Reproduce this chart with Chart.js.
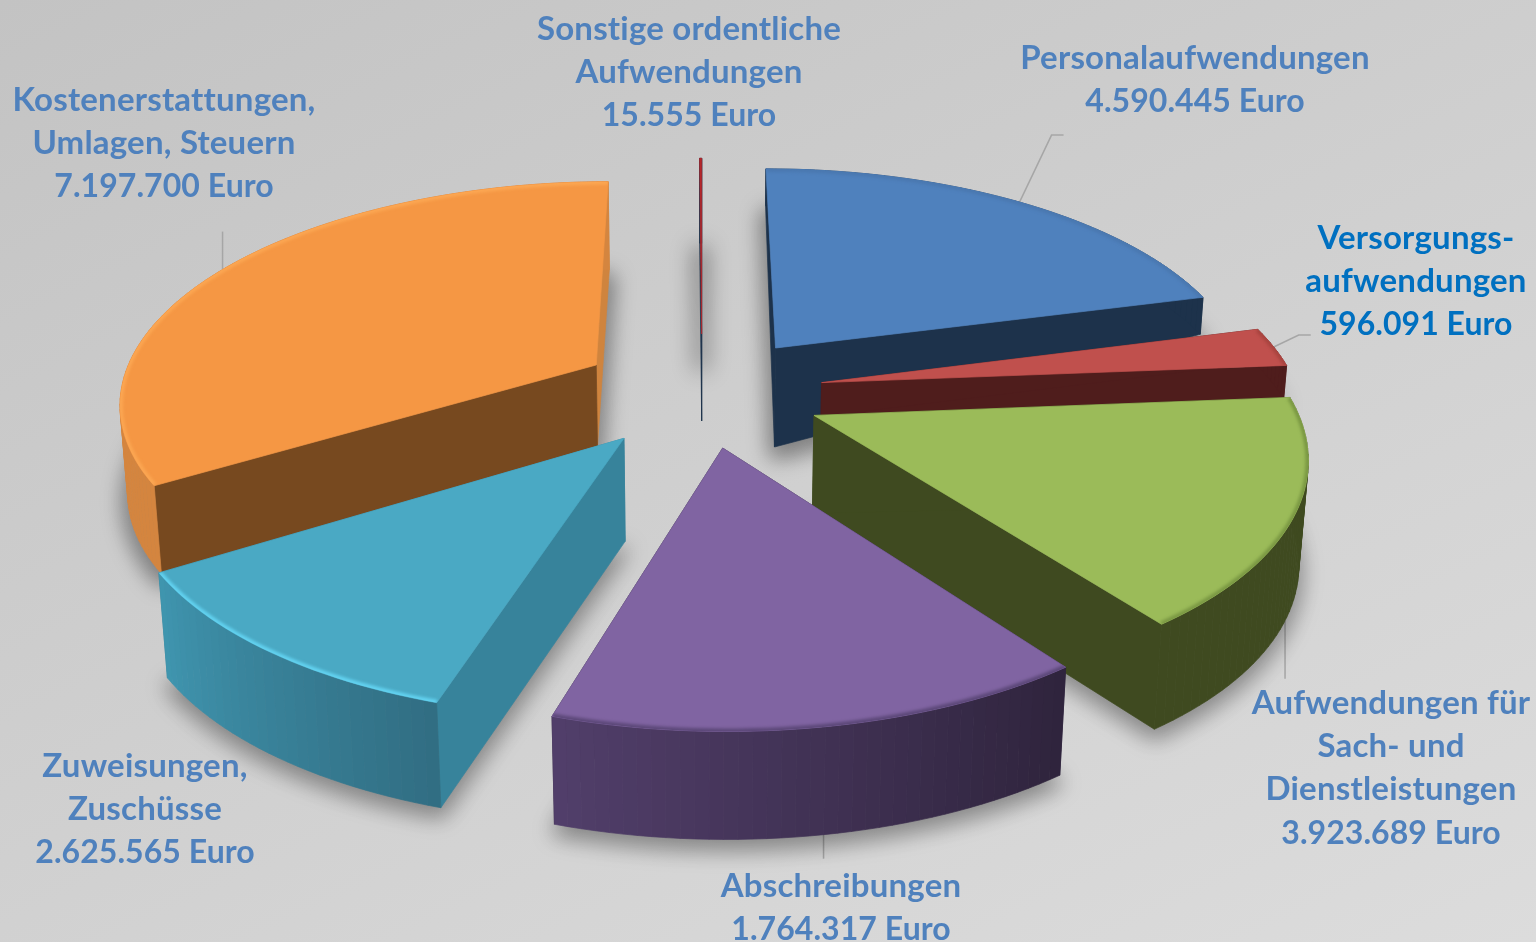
<!DOCTYPE html>
<html lang="de">
<head>
<meta charset="utf-8">
<title>Aufwendungen</title>
<script src="https://cdn.jsdelivr.net/npm/chart.js@4/dist/chart.umd.min.js"></script>
<style>
    html, body { margin: 0; height: 100%; overflow: hidden; }
    body { background: linear-gradient(155deg, #c3c3c3, #dcdcdc); }
    canvas { display: block; }
</style>
</head>
<body>
<canvas id="pie" width="1536" height="942"></canvas>
<script>
// data
const categories = [
    ['Personalaufwendungen'],
    ['Versorgungs-', 'aufwendungen'],
    ['Aufwendungen für', 'Sach- und', 'Dienstleistungen'],
    ['Abschreibungen'],
    ['Zuweisungen,', 'Zuschüsse'],
    ['Kostenerstattungen,', 'Umlagen, Steuern'],
    ['Sonstige ordentliche', 'Aufwendungen']
];
const euroValues = [4590445, 596091, 3923689, 1764317, 2625565, 7197700, 15555];
// size of each slice in degrees as drawn in the picture, the slices there
// are not quite proportional to the printed euro figures
const sliceDegrees = [75.2, 10.2, 58, 53.9, 41, 121.4, 0.3];

// style
const sliceOffsets = [108, 106, 105, 103, 107, 107, 114];
const topColors = ['#4f81bd', '#c0504d', '#9bbb59', '#8064a2', '#4aa9c4', '#f59744', '#b5272b'];
const startWallColors = ['#1d324b', '#4f1d1c', '#3f4a20', '#31263f', '#37839b', '#77491f', '#1d324b'];
const endWallColors = ['#1d324b', '#4f1d1c', '#3f4a20', '#31263f', '#37839b', '#cf843e', '#1d324b'];
const arcWallFrom = ['#1d324b', '#4f1d1c', '#3f4a20', '#2f243d', '#316e83', '#d4853f', '#1d324b'];
const arcWallTo = ['#1d324b', '#4f1d1c', '#3f4a20', '#523f6b', '#4096b0', '#d4853f', '#1d324b'];
const rimColors = ['#4a78b0', '#a8443f', '#7a9843', '#5c4879', '#62d2f0', '#fba652', '#b5272b'];
const depthAtApex = [99, 34, 98, 100, 103, 81, 87];
const depthAtRim = [37, 34, 105, 108, 105, 88, 85];
const shadowSpread = [8, 0, 4, 4, 4, 8, 12];
const shadowFrom = [0, 0, 0, 0, 0, 0, 0.3];
const drawOrder = [6, 0, 5, 1, 2, 4, 3];

// view of the pie plane
const centerX = 702;
const centerY = 392;
const scaleX = 477;
const scaleY = 219.7;
const perspective = 0.1558;
const converge = 0.00015;

// labels
const labelColors = ['#4f81bd', '#0070c0', '#4f81bd', '#4f81bd', '#4f81bd', '#4f81bd', '#4f81bd'];
const labelX = [1195, 1416, 1391, 841, 145, 164, 689];
const labelY = [58, 238, 703, 886, 766, 100, 29];
const lineGap = 43.4;
const leaderBends = [
    [[32, -67], [44, -67]],
    [[25, -12], [37, -12]],
    [[0, 58]],
    [[0, 24]],
    [],
    [[0, -38]],
    []
];
const leaderUsesDepth = [false, false, true, true, false, false, false];

function formatEuro(value) {
    return String(value).replace(/\B(?=(\d{3})+$)/g, '.') + ' Euro';
}

function mix(a, b, t) {
    const ca = parseInt(a.slice(1), 16);
    const cb = parseInt(b.slice(1), 16);
    const part = shift => {
        const pa = (ca >> shift) & 255;
        const pb = (cb >> shift) & 255;
        return Math.round(pa + (pb - pa) * t);
    };
    return `rgb(${part(16)},${part(8)},${part(0)})`;
}

// radial position r (0..1) at angle a of slice i, from the arc Chart.js laid out
function slicePoint(arc, i, r, a, lowered) {
    const mid = (arc.startAngle + arc.endAngle) / 2;
    const shift = arc.options.offset / arc.outerRadius;
    const ux = shift * Math.cos(mid) + r * Math.cos(a);
    const uy = shift * Math.sin(mid) + r * Math.sin(a);
    const d = 1 - perspective * uy;
    const depth = lowered ? depthAtApex[i] + (depthAtRim[i] - depthAtApex[i]) * r : 0;
    let x = centerX + scaleX * ux / d;
    x -= (x - centerX) * converge * depth;
    return { x: x, y: centerY + scaleY * uy / d + depth };
}

function rimPoints(arc, i, lowered) {
    const steps = Math.max(2, Math.ceil((arc.endAngle - arc.startAngle) * 40));
    const points = [];
    for (let s = 0; s <= steps; s++) {
        const a = arc.startAngle + (arc.endAngle - arc.startAngle) * s / steps;
        points.push(slicePoint(arc, i, 1, a, lowered));
    }
    return points;
}

function tracePolygon(ctx, points) {
    ctx.beginPath();
    points.forEach((p, n) => n ? ctx.lineTo(p.x, p.y) : ctx.moveTo(p.x, p.y));
    ctx.closePath();
}

function fillPolygon(ctx, points, color) {
    tracePolygon(ctx, points);
    ctx.fillStyle = color;
    ctx.strokeStyle = color;
    ctx.lineWidth = 0.7;
    ctx.fill();
    ctx.stroke();
}

// only the shadow lands on the canvas, the shape itself is drawn off to the side
function drawShadow(ctx, arc, i) {
    const away = 3000;
    const from = slicePoint(arc, i, shadowFrom[i], (arc.startAngle + arc.endAngle) / 2, true);
    const points = [from].concat(rimPoints(arc, i, true));
    ctx.save();
    ctx.shadowColor = 'rgba(0,0,0,0.38)';
    ctx.shadowBlur = 22;
    ctx.shadowOffsetX = away;
    ctx.shadowOffsetY = 8;
    ctx.translate(-away, 0);
    tracePolygon(ctx, points);
    ctx.fillStyle = '#000';
    ctx.strokeStyle = '#000';
    ctx.lineWidth = shadowSpread[i] + 0.1;
    ctx.fill();
    ctx.stroke();
    ctx.restore();
}

function drawSlice(ctx, arc, i) {
    const apexTop = slicePoint(arc, i, 0, arc.startAngle, false);
    const apexLow = slicePoint(arc, i, 0, arc.startAngle, true);
    const rimTop = rimPoints(arc, i, false);
    const rimLow = rimPoints(arc, i, true);
    const last = rimTop.length - 1;

    drawShadow(ctx, arc, i);

    fillPolygon(ctx, [apexTop, rimTop[last], rimLow[last], apexLow], endWallColors[i]);
    fillPolygon(ctx, [apexTop, rimTop[0], rimLow[0], apexLow], startWallColors[i]);
    for (let s = 0; s < last; s++) {
        const color = mix(arcWallFrom[i], arcWallTo[i], s / last);
        fillPolygon(ctx, [rimTop[s], rimTop[s + 1], rimLow[s + 1], rimLow[s]], color);
    }

    const face = [apexTop].concat(rimTop);
    fillPolygon(ctx, face, topColors[i]);

    // soft edge along the rim
    ctx.save();
    tracePolygon(ctx, face);
    ctx.clip();
    ctx.filter = 'blur(1.5px)';
    ctx.beginPath();
    rimTop.forEach((p, n) => n ? ctx.lineTo(p.x, p.y) : ctx.moveTo(p.x, p.y));
    ctx.strokeStyle = rimColors[i];
    ctx.lineWidth = 6;
    ctx.stroke();
    ctx.restore();
}

function drawLeader(ctx, arc, i) {
    const bends = leaderBends[i];
    if (!bends.length) {
        return;
    }
    const mid = (arc.startAngle + arc.endAngle) / 2;
    const start = slicePoint(arc, i, 1, mid, leaderUsesDepth[i]);
    ctx.beginPath();
    ctx.moveTo(start.x, start.y);
    bends.forEach(b => ctx.lineTo(start.x + b[0], start.y + b[1]));
    ctx.strokeStyle = '#a6a6a6';
    ctx.lineWidth = 1.5;
    ctx.stroke();
}

function drawLabel(ctx, i) {
    const lines = categories[i].concat(formatEuro(euroValues[i]));
    ctx.textAlign = 'center';
    ctx.textBaseline = 'middle';
    ctx.fillStyle = labelColors[i];
    lines.forEach((line, n) => {
        // the euro line runs a little narrower in the picture
        const isEuro = n === lines.length - 1;
        ctx.font = isEuro ? '700 32px Lato' : '700 33px Lato';
        ctx.letterSpacing = isEuro ? '0.05px' : '0.2px';
        ctx.fillText(line, labelX[i], labelY[i] + n * lineGap);
    });
}

const slices3d = {
    id: 'slices3d',
    beforeDatasetDraw() {
        return false;
    },
    afterDatasetsDraw(chart) {
        const ctx = chart.ctx;
        const arcs = chart.getDatasetMeta(0).data;
        ctx.save();
        arcs.forEach((arc, i) => drawLeader(ctx, arc, i));
        drawOrder.forEach(i => drawSlice(ctx, arcs[i], i));
        categories.forEach((c, i) => drawLabel(ctx, i));
        ctx.restore();
    }
};

new Chart(document.getElementById('pie').getContext('2d'), {
    type: 'pie',
    data: {
        labels: categories.map(c => c.join(' ')),
        datasets: [{
            data: sliceDegrees,
            backgroundColor: topColors,
            offset: sliceOffsets,
            borderWidth: 0
        }]
    },
    options: {
        responsive: false,
        animation: false,
        events: [],
        plugins: {
            legend: { display: false },
            tooltip: { enabled: false }
        }
    },
    plugins: [slices3d]
});
</script>
</body>
</html>
